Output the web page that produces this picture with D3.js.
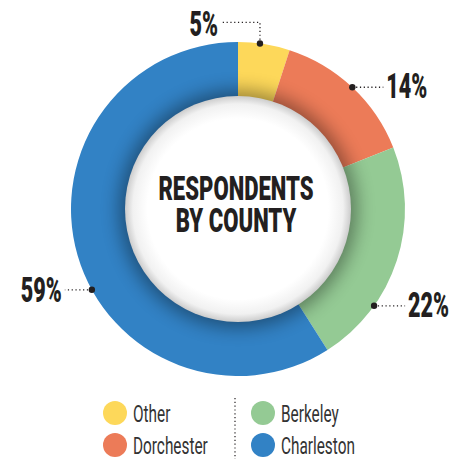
<!DOCTYPE html>
<html>
<head>
<meta charset="utf-8">
<script src="https://cdn.jsdelivr.net/npm/d3@7"></script>
<style>
  html, body { margin: 0; padding: 0; background: #fff; }
  svg { display: block; }
  .pct { font-family: Roboto, "Liberation Sans", sans-serif; font-weight: 900; fill: #231f20; }
  .title { font-family: Roboto, "Liberation Sans", sans-serif; font-weight: 900; fill: #231f20; }
  .leg { font-family: Roboto, "Liberation Sans", sans-serif; font-weight: 400; fill: #333; }
</style>
</head>
<body>
<div id="chart"></div>
<script>
"use strict";

// data
const counties = ["Other", "Dorchester", "Berkeley", "Charleston"];
const shares = [5, 14, 22, 59];
const colors = ["#fdd85a", "#ec7b58", "#94ca94", "#3282c5"];
// where along each slice the callout dot sits (0 = start, 1 = end)
const calloutAt = [0.42, 0.5, 0.72, 0.44];
const legendOrder = ["Other", "Dorchester", "Berkeley", "Charleston"];

const width = 449, height = 459;
const cx = 238, cy = 209;
const outerR = 167, innerR = 113;
const squeeze = 0.6; // condensed look
const titleSqueeze = 0.65;

const svg = d3.select("#chart").append("svg")
    .attr("width", width)
    .attr("height", height);

const defs = svg.append("defs");
const grad = defs.append("radialGradient").attr("id", "hole");
grad.append("stop").attr("offset", "80%").attr("stop-color", "#ffffff");
grad.append("stop").attr("offset", "93%").attr("stop-color", "#f1f1f1");
grad.append("stop").attr("offset", "100%").attr("stop-color", "#cccccc");

const blur = defs.append("filter").attr("id", "shadow")
    .attr("x", "-30%").attr("y", "-30%").attr("width", "160%").attr("height", "160%");
blur.append("feGaussianBlur").attr("stdDeviation", 9);

const clip = defs.append("clipPath").attr("id", "ring");
clip.append("circle").attr("r", outerR);

const pie = d3.pie().sort(null).value(d => d)(shares);
const arc = d3.arc().innerRadius(innerR - 2).outerRadius(outerR);

const g = svg.append("g").attr("transform", `translate(${cx},${cy})`);

g.selectAll("path.slice")
  .data(pie)
  .join("path")
    .attr("class", "slice")
    .attr("d", arc)
    .attr("fill", (d, i) => colors[i]);

// shadow of the centre disc falling on the ring
g.append("g").attr("clip-path", "url(#ring)")
  .append("circle")
    .attr("r", innerR + 6)
    .attr("fill", "#000")
    .attr("opacity", 0.38)
    .attr("filter", "url(#shadow)");

g.append("circle")
    .attr("r", innerR)
    .attr("fill", "url(#hole)");

// title
const title = g.append("text")
    .attr("class", "title")
    .attr("text-anchor", "middle")
    .attr("transform", `scale(${titleSqueeze},1)`)
    .style("font-size", "34px");
title.append("tspan").attr("x", -2 / titleSqueeze).attr("y", -9).text("RESPONDENTS");
title.append("tspan").attr("x", -2 / titleSqueeze).attr("y", 23).text("BY COUNTY");

// callouts
const point = (a, r) => [r * Math.sin(a), -r * Math.cos(a)];

pie.forEach((d, i) => {
  const a = d.startAngle + calloutAt[i] * (d.endAngle - d.startAngle);
  const [px, py] = point(a, outerR);
  const right = Math.sin(a) > 0;
  let pts, tx, ty, anchor;
  if (i === 0) {
    // top slice: elbow up then left
    pts = [[px, py], [px, py - 21], [px - 39, py - 21]];
    tx = px - 42; ty = py - 21 + 14; anchor = "end";
  } else if (right) {
    pts = [[px, py], [px + 31, py]];
    tx = px + 34; ty = py + 11; anchor = "start";
  } else {
    pts = [[px, py], [px - 27, py]];
    tx = px - 30; ty = py + 12; anchor = "end";
  }
  g.append("path")
      .attr("d", d3.line()(pts))
      .attr("fill", "none")
      .attr("stroke", "#231f20")
      .attr("stroke-width", 1.3)
      .attr("stroke-dasharray", "1.2,2.6");
  g.append("circle")
      .attr("cx", px).attr("cy", py).attr("r", 3.2)
      .attr("fill", "#231f20");
  g.append("text")
      .attr("class", "pct")
      .attr("text-anchor", anchor)
      .attr("transform", `translate(${tx},${ty}) scale(${squeeze},1)`)
      .style("font-size", "36px")
      .text(shares[i] + "%");
});

// legend
const colorOf = d3.scaleOrdinal().domain(counties).range(colors);
const legend = svg.append("g");
const items = legend.selectAll("g.item")
  .data(legendOrder)
  .join("g")
    .attr("class", "item")
    .attr("transform", (d, i) => `translate(${115 + Math.floor(i / 2) * 148},${413 + (i % 2) * 32})`);

items.append("circle")
    .attr("r", 12)
    .attr("fill", d => colorOf(d));

const legSqueeze = 0.64;
items.append("text")
    .attr("class", "leg")
    .attr("x", 18 / legSqueeze)
    .attr("y", 8.5)
    .attr("transform", `scale(${legSqueeze},1)`)
    .style("font-size", "24px")
    .text(d => d);

legend.append("line")
    .attr("x1", 235).attr("x2", 235)
    .attr("y1", 398).attr("y2", 459)
    .attr("stroke", "#231f20")
    .attr("stroke-width", 1.2)
    .attr("stroke-dasharray", "1.2,2.6");
</script>
</body>
</html>
